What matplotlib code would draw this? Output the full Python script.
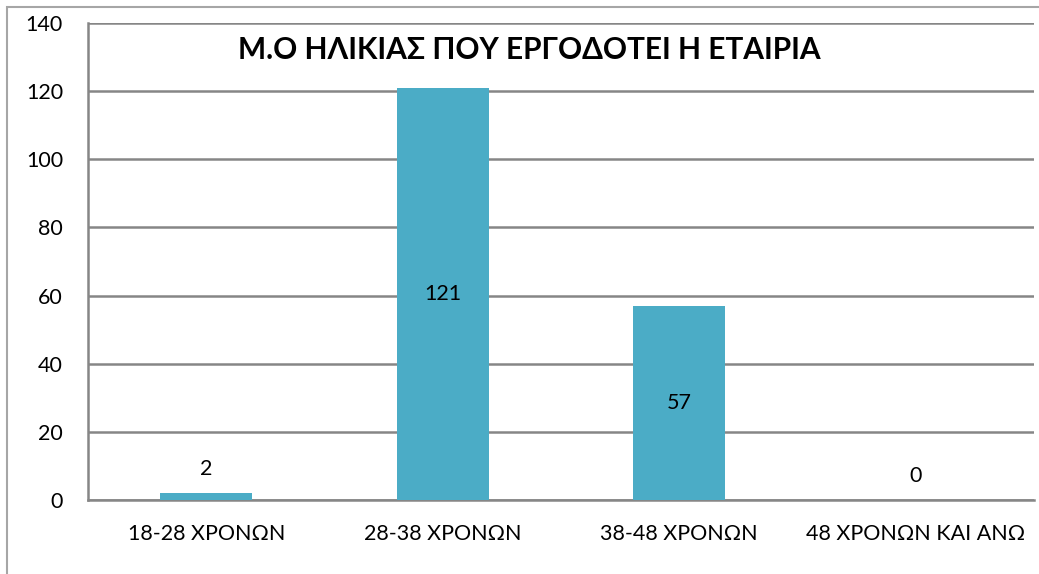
import matplotlib.pyplot as plt
from matplotlib.patches import Rectangle

categories = ['18-28 ΧΡΟΝΩΝ', '28-38 ΧΡΟΝΩΝ', '38-48 ΧΡΟΝΩΝ', '48 ΧΡΟΝΩΝ ΚΑΙ ΑΝΩ']
values = [2, 121, 57, 0]
title = 'Μ.Ο ΗΛΙΚΙΑΣ ΠΟΥ ΕΡΓΟΔΟΤΕΙ Η ΕΤΑΙΡΙΑ'

plt.rcParams['font.family'] = ['Lato', 'DejaVu Sans']

W, H = 1039, 574
fig = plt.figure(figsize=(W / 100, H / 100), dpi=100)

# outer chart frame (cut off on right/bottom like the reference)
fig.patches.append(Rectangle((7 / W, -0.1), 1.2, 1 - 7 / H + 0.1, transform=fig.transFigure,
                             fill=False, edgecolor='#a6a6a6', linewidth=1.5))

ax = fig.add_axes([88 / W, 1 - 500 / H, (1034 - 88) / W, (500 - 23) / H])
x = range(len(categories))
ax.bar(x, values, width=0.39, color='#4bacc6', zorder=3)

ax.set_xlim(-0.5, len(categories) - 0.5)
ax.set_ylim(0, 140)
ax.set_yticks(range(0, 141, 20))
ax.yaxis.grid(True, color='#868686', linewidth=1.8, zorder=0)
ax.set_xticks(list(x))
ax.set_xticklabels(categories, fontsize=15.5)
ax.tick_params(axis='y', labelsize=15.5, length=0, pad=18)
ax.tick_params(axis='x', length=0, pad=17)

for s in ['top', 'right']:
    ax.spines[s].set_visible(False)
ax.spines['left'].set_color('#868686')
ax.spines['left'].set_linewidth(1.8)
ax.spines['bottom'].set_color('#868686')
ax.spines['bottom'].set_linewidth(1.8)

for xi, v in zip(x, values):
    if v >= 10:
        ax.text(xi, v / 2, str(v), ha='center', va='center', fontsize=15.5, zorder=4)
    else:
        ax.text(xi, v + 7, str(v), ha='center', va='center', fontsize=15.5, zorder=4)

fig.text(529 / W, 1 - 50 / H, title, ha='center', va='center', fontsize=21.5, fontweight='bold')

fig.savefig('out.png', dpi=100, facecolor='white')
